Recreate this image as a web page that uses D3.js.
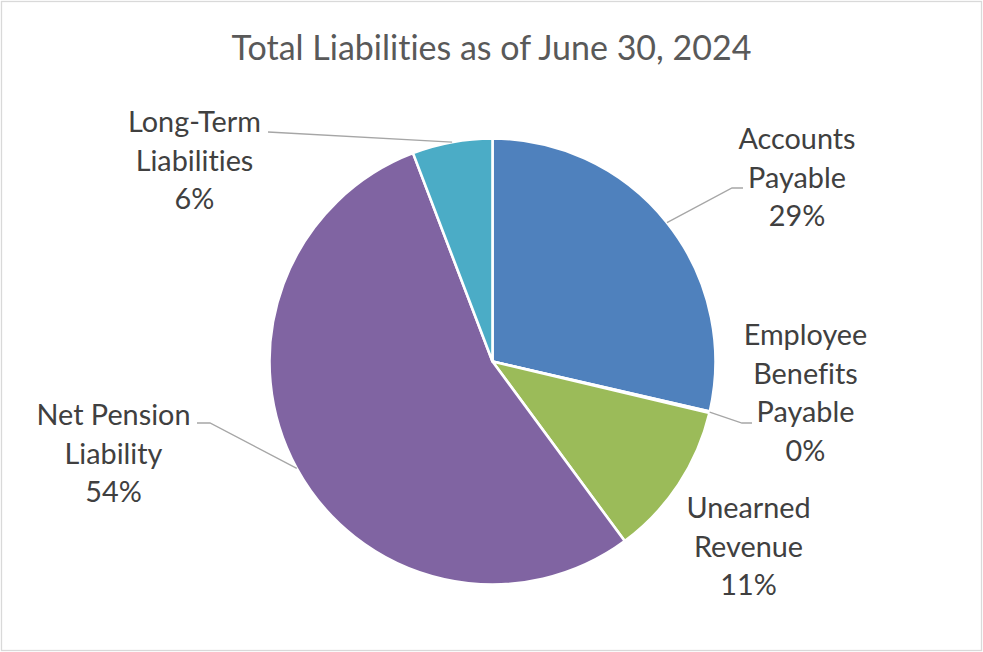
<!DOCTYPE html>
<html>
<head>
<meta charset="utf-8">
<script src="https://cdn.jsdelivr.net/npm/d3@7"></script>
<style>
  html, body { margin: 0; padding: 0; background: #fff; }
  svg { display: block; }
  text { font-variant-ligatures: none; font-feature-settings: "liga" 0; }
</style>
</head>
<body>
<svg id="chart" width="983" height="652"></svg>
<script>
// Liability categories and their share of the total (percent)
const categories = ["Accounts Payable", "Employee Benefits Payable", "Unearned Revenue", "Net Pension Liability", "Long-Term Liabilities"];
const values = [28.6, 0.1, 11.2, 54.3, 5.8];
const labelLines = [["Accounts", "Payable"], ["Employee", "Benefits", "Payable"], ["Unearned", "Revenue"], ["Net Pension", "Liability"], ["Long-Term", "Liabilities"]];
const colors = ["#4f81bd", "#c0504d", "#9bbb59", "#8064a2", "#4bacc6"];
const title = "Total Liabilities as of June 30, 2024";

// Label placement: text centre, first baseline, and leader elbow/end (null = no leader)
const labelLayout = [
  { x: 797, y: 149, leader: [[732, 188], [743, 188]] },
  { x: 805.5, y: 345, leader: [[742, 423], [752, 423]] },
  { x: 748.5, y: 518, leader: null },
  { x: 113.5, y: 425, leader: [[210, 423], [197, 423]] },
  { x: 194.5, y: 132, leader: [[268, 132]] }
];

const W = 983, H = 652;
const cx = 492.5, cy = 361.5, R = 223;
const lineGap = 38.7;
const font = "Lato, 'Open Sans', sans-serif";

const svg = d3.select("#chart");

// chart frame
svg.append("rect")
  .attr("x", 1.5).attr("y", 1.5)
  .attr("width", W - 3).attr("height", H - 3)
  .attr("fill", "#fff")
  .attr("stroke", "#d9d9d9")
  .attr("stroke-width", 1.3);

svg.append("text")
  .attr("x", 491.5).attr("y", 60)
  .attr("text-anchor", "middle")
  .attr("font-family", font)
  .attr("font-size", 34)
  .attr("fill", "#595959")
  .text(title);

const data = categories.map((c, i) => ({ name: c, value: values[i], i }));
const pie = d3.pie().value(d => d.value).sort(null);
const arcs = pie(data);
const arc = d3.arc().innerRadius(0).outerRadius(R);

const g = svg.append("g").attr("transform", `translate(${cx},${cy})`);
g.selectAll("path.slice")
  .data(arcs)
  .join("path")
  .attr("class", "slice")
  .attr("d", arc)
  .attr("fill", d => colors[d.data.i])
  .attr("stroke", "#fff")
  .attr("stroke-width", 2.6)
  .attr("stroke-linejoin", "round");

const total = d3.sum(values);

arcs.forEach(a => {
  const i = a.data.i;
  const lay = labelLayout[i];
  const mid = (a.startAngle + a.endAngle) / 2;
  const px = cx + R * Math.sin(mid), py = cy - R * Math.cos(mid);

  if (lay.leader) {
    const pts = [[px, py], ...lay.leader];
    svg.append("path")
      .attr("d", d3.line()(pts))
      .attr("fill", "none")
      .attr("stroke", "#a6a6a6")
      .attr("stroke-width", 1.3);
  }

  const lines = [...labelLines[i], Math.round(a.data.value / total * 100) + "%"];
  const t = svg.append("text")
    .attr("text-anchor", "middle")
    .attr("font-family", font)
    .attr("font-size", 28.8)
    .attr("fill", "#404040");
  lines.forEach((ln, k) => {
    t.append("tspan")
      .attr("x", lay.x)
      .attr("y", lay.y + k * lineGap)
      .text(ln);
  });
});
</script>
</body>
</html>
